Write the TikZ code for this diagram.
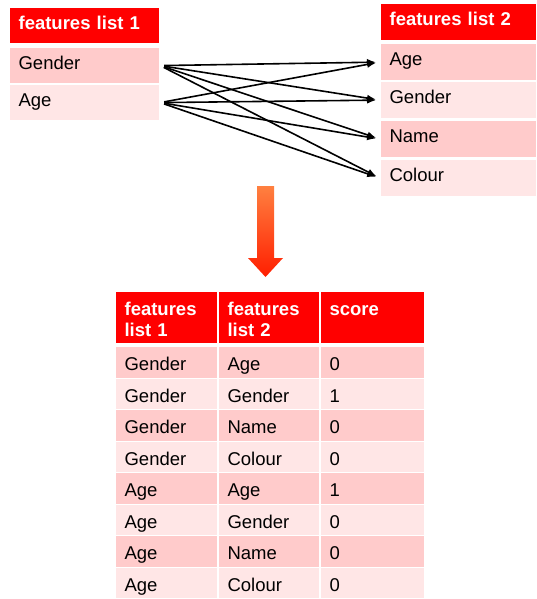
\documentclass[tikz,border=0pt]{standalone}
\usepackage{fontspec}
\setmainfont{Liberation Sans}
\usepackage{tikz}
\usetikzlibrary{
  arrows.meta,
  calc
}
\definecolor{hdred}{HTML}{FF0000}
\definecolor{rowdark}{HTML}{FFCBCB}
\definecolor{rowlight}{HTML}{FFE6E6}
\definecolor{arrowtop}{HTML}{FF8040}
\definecolor{arrowbot}{HTML}{FF1E00}
\tikzset{
  cell/.style={
    rectangle, draw=white, line width=1.2pt, anchor=north west,
    inner xsep=9pt, inner ysep=0pt, align=left, text=black,
    text height=12pt, text depth=5pt,
    font=\fontsize{18.5}{21}\selectfont
  },
  hdcell/.style={cell, fill=hdred, text=white,
    font=\bfseries\fontsize{18.5}{21}\selectfont},
  darkrow/.style={cell, fill=rowdark},
  lightrow/.style={cell, fill=rowlight},
  tabrow/.style={text height=17pt, text depth=0pt, minimum height=31.5pt},
  link/.style={-{Latex[length=9pt,width=7pt]}, line width=1.6pt,
    shorten <=4pt, shorten >=4pt},
}

\begin{document}
\begin{tikzpicture}[x=1pt, y=-1pt]
\useasboundingbox (0,0) rectangle (536,599);

% --- Top left: first list ---
\begin{scope}[every node/.append style={text width=132pt, minimum height=36pt}]
  \node[hdcell]    (fla-hd)     at (9,7)  {features list 1};
  \node[darkrow]   (fla-gender) at (9,47) {Gender};
  \node[lightrow]  (fla-age)    at (9,84) {Age};
\end{scope}

% --- Top right: second list ---
\begin{scope}[every node/.append style={text width=138pt, minimum height=37pt}]
  \node[hdcell]    (flb-hd)     at (380,3)   {features list 2};
  \node[darkrow]   (flb-age)    at (380,43)  {Age};
  \node[lightrow]  (flb-gender) at (380,81)  {Gender};
  \node[darkrow]   (flb-name)   at (380,120) {Name};
  \node[lightrow]  (flb-colour) at (380,159) {Colour};
\end{scope}

% every feature of list 1 against every feature of list 2
\foreach \src in {gender, age}
  \foreach \dst in {age, gender, name, colour}
    \draw[link] (fla-\src.east) -- (flb-\dst.west);

% --- Down arrow ---
\shade[top color=arrowtop, bottom color=arrowbot]
  (257,186) -- (274,186) -- (274,258) -- (283,258) -- (265.5,277)
  -- (248,258) -- (257,258) -- cycle;

% --- Bottom: pair table ---
\node[hdcell, text width=84pt, text height=24pt, text depth=28pt]  (tb-hda) at (115,291) {features\\list 1};
\node[hdcell, text width=83pt, text height=24pt, text depth=28pt]  (tb-hdb) at (218,291) {features\\list 2};
\node[hdcell, text width=86pt, text height=24pt, text depth=28pt]  (tb-hdc) at (320,291) {score};

\foreach \fa/\fb/\sc [count=\i] in {Gender/Age/0, Gender/Gender/1, Gender/Name/0, Gender/Colour/0,
                                   Age/Age/1, Age/Gender/0, Age/Name/0, Age/Colour/0}{
  \pgfmathsetmacro{\ytop}{346+(\i-1)*31.5}
  \ifodd\i \def\rowsty{darkrow}\else \def\rowsty{lightrow}\fi
  \node[\rowsty, tabrow, text width=84pt] (tb-\i-a) at (115,\ytop) {\fa};
  \node[\rowsty, tabrow, text width=83pt] (tb-\i-b) at (218,\ytop) {\fb};
  \node[\rowsty, tabrow, text width=86pt] (tb-\i-c) at (320,\ytop) {\sc};
}
\end{tikzpicture}
\end{document}
